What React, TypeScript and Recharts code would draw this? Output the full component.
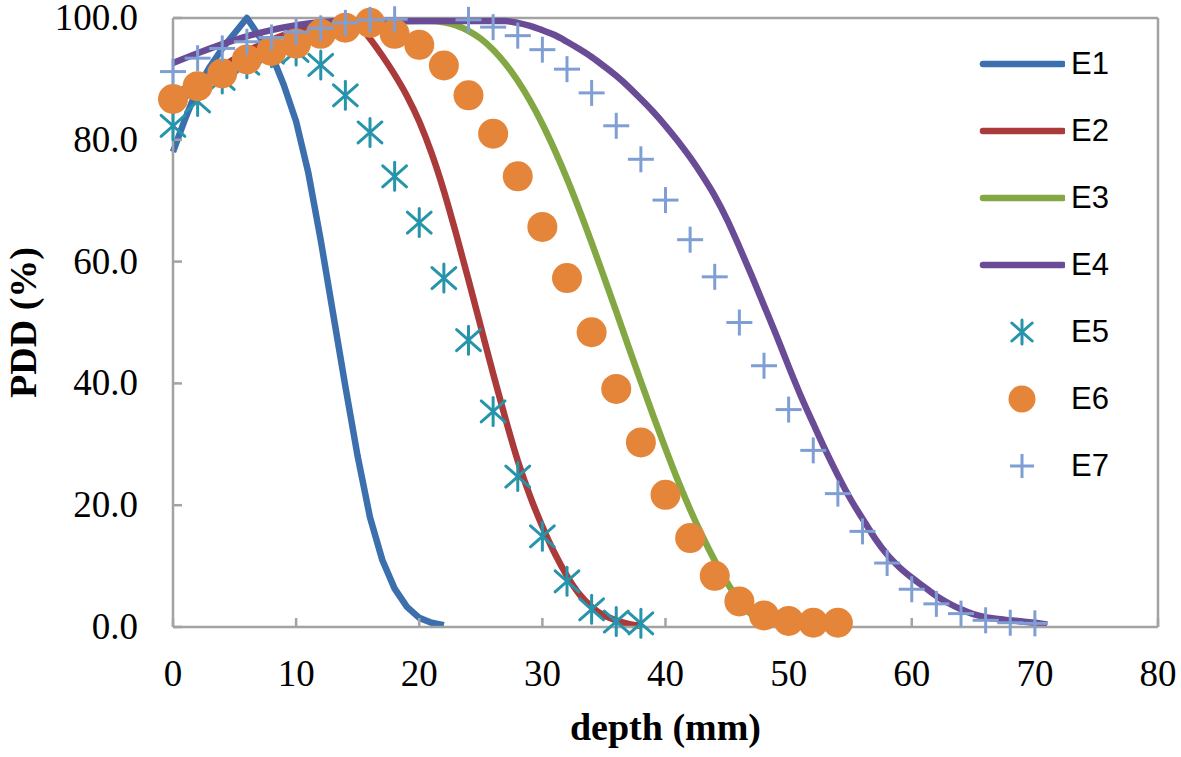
import React from 'react';
import {
  ComposedChart,
  Line,
  Scatter,
  XAxis,
  YAxis,
  ReferenceLine,
  Legend,
} from 'recharts';

// axis ticks
const xTicks = [0, 10, 20, 30, 40, 50, 60, 70, 80];
const yTicks = [0, 20, 40, 60, 80, 100];

// E1..E4 are drawn as lines
const e1Depth = [0, 1, 2, 3, 4, 5, 6, 7, 8, 9, 10, 11, 12, 13, 14, 15, 16, 17, 18, 19, 20, 21, 22];
const e1Pdd = [78, 83.5, 88.5, 92, 95, 97.5, 100, 97, 94, 89, 83, 74.5, 63.5, 51.5, 39.5, 28, 18, 11, 6.3, 3.3, 1.5, 0.7, 0.3];

const e2Depth = [0, 1, 2, 3, 4, 5, 6, 7, 8, 9, 10, 11, 12, 13, 14, 15, 16, 17, 18, 19, 20, 21, 22, 23, 24, 25, 26, 27, 28, 29, 30, 31, 32, 33, 34, 35, 36, 37, 38];
const e2Pdd = [85, 87, 89, 90.6, 92, 93.3, 94.5, 95.5, 96.4, 97.2, 97.9, 98.5, 99, 99.4, 99.6, 99, 96.6, 93.8, 90.7, 87.2, 83, 77.8, 71.6, 64.5, 57, 49.3, 41.6, 34.2, 27.3, 21.5, 16.5, 12.1, 8.4, 5.4, 3.3, 1.9, 1.1, 0.5, 0.2];

const e3Depth = [0, 2, 4, 6, 8, 10, 12, 14, 16, 18, 20, 21, 22, 23, 24, 25, 26, 27, 28, 29, 30, 31, 32, 33, 34, 35, 36, 37, 38, 39, 40, 41, 42, 43, 44, 45, 46, 47, 48];
const e3Pdd = [87.5, 89.5, 91.5, 93.3, 95, 96.3, 97.4, 98.3, 99, 99.4, 99.5, 99.5, 99.3, 98.8, 97.9, 96.6, 94.8, 92.5, 89.7, 86.4, 82.6, 78.3, 73.6, 68.5, 63.1, 57.5, 51.8, 46, 40.3, 34.7, 29.3, 24.1, 19.3, 14.9, 10.9, 7.3, 4.3, 2, 0.6];

const e4Depth = [0, 2, 4, 6, 8, 10, 12, 14, 16, 18, 20, 22, 24, 26, 27, 28, 29, 30, 31, 32, 33, 34, 35, 36, 37, 38, 39, 40, 41, 42, 43, 44, 45, 46, 47, 48, 49, 50, 51, 52, 53, 54, 55, 56, 57, 58, 59, 60, 61, 62, 63, 64, 65, 66, 67, 68, 69, 70, 71];
const e4Pdd = [92.6, 94.2, 95.7, 97, 98, 98.8, 99.3, 99.5, 99.5, 99.5, 99.5, 99.5, 99.5, 99.5, 99.5, 99.2, 98.7, 98, 97.2, 96.1, 94.9, 93.6, 92.1, 90.5, 88.7, 86.7, 84.6, 82.3, 79.8, 77.1, 74.1, 70.8, 66.9, 62.4, 57.7, 52.8, 47.9, 42.8, 37.9, 33.4, 29, 24.9, 21.1, 17.8, 14.6, 11.9, 9.8, 8.1, 6.6, 5.1, 3.9, 2.9, 2.1, 1.6, 1.3, 1.1, 0.9, 0.7, 0.4];

// E5..E7 are drawn as markers
const e5Depth = [0, 2, 4, 6, 8, 10, 12, 14, 16, 18, 20, 22, 24, 26, 28, 30, 32, 34, 36, 38];
const e5Pdd = [82.3, 86.3, 90, 92.5, 94.3, 94.6, 92.3, 87.3, 81.2, 74, 66.4, 57.3, 47.1, 35.4, 24.7, 14.9, 7.5, 2.9, 0.9, 0.6];

const e6Depth = [0, 2, 4, 6, 8, 10, 12, 14, 16, 18, 20, 22, 24, 26, 28, 30, 32, 34, 36, 38, 40, 42, 44, 46, 48, 50, 52, 54];
const e6Pdd = [86.7, 88.8, 90.9, 93.2, 94.6, 95.8, 97.4, 98.4, 99.2, 97.4, 95.6, 92.2, 87.3, 81, 74, 65.7, 57.3, 48.4, 39.1, 30.3, 21.7, 14.6, 8.4, 4.2, 1.9, 1.0, 0.7, 0.7];

const e7Depth = [0, 2, 4, 6, 8, 10, 12, 14, 16, 18, 24, 26, 28, 30, 32, 34, 36, 38, 40, 42, 44, 46, 48, 50, 52, 54, 56, 58, 60, 62, 64, 66, 68, 70];
const e7Pdd = [91.2, 93.4, 95, 96.1, 96.8, 97.7, 98.3, 99.2, 99.7, 99.8, 99.7, 98.5, 97.1, 94.8, 91.6, 87.7, 82.3, 76.8, 70.1, 63.6, 57.5, 50, 42.9, 35.7, 29, 21.9, 15.7, 10.5, 6.2, 3.8, 2.2, 1.1, 0.7, 0.6];

const GRAY = '#a3a3a3';
const SERIF = '"Liberation Serif", "Times New Roman", serif';
const SANS = '"Liberation Sans", Arial, sans-serif';

const colors = {
  E1: '#3b6fae',
  E2: '#aa3b3a',
  E3: '#83a843',
  E4: '#6a4c96',
  E5: '#2694aa',
  E6: '#e4853a',
  E7: '#7f9fd4',
};

const toPoints = (depth: number[], pdd: number[]) =>
  depth.map((d, i) => ({ depth: d, pdd: pdd[i] }));

const Asterisk = ({ cx, cy, r = 14, color }: any) => (
  <g stroke={color} strokeWidth={3} strokeLinecap="round">
    <line x1={cx} y1={cy - r} x2={cx} y2={cy + r} />
    <line x1={cx - r * 0.85} y1={cy - r * 0.75} x2={cx + r * 0.85} y2={cy + r * 0.75} />
    <line x1={cx - r * 0.85} y1={cy + r * 0.75} x2={cx + r * 0.85} y2={cy - r * 0.75} />
  </g>
);

const Plus = ({ cx, cy, r = 13, color }: any) => (
  <g stroke={color} strokeWidth={3}>
    <line x1={cx} y1={cy - r} x2={cx} y2={cy + r} />
    <line x1={cx - r} y1={cy} x2={cx + r} y2={cy} />
  </g>
);

const Dot = ({ cx, cy, r = 15, color }: any) => <circle cx={cx} cy={cy} r={r} fill={color} />;

const legendItems = [
  { name: 'E1', kind: 'line' },
  { name: 'E2', kind: 'line' },
  { name: 'E3', kind: 'line' },
  { name: 'E4', kind: 'line' },
  { name: 'E5', kind: 'star' },
  { name: 'E6', kind: 'circle' },
  { name: 'E7', kind: 'plus' },
];

function renderLegend() {
  return (
    <div style={{ display: 'flex', flexDirection: 'column' }}>
      {legendItems.map((item) => {
        const c = (colors as any)[item.name];
        return (
          <div key={item.name} style={{ display: 'flex', alignItems: 'center', height: 67 }}>
            <svg width={90} height={40}>
              {item.kind === 'line' && (
                <line x1={8} y1={20} x2={88} y2={20} stroke={c} strokeWidth={6.5} strokeLinecap="round" />
              )}
              {item.kind === 'star' && <Asterisk cx={47} cy={20} r={12} color={c} />}
              {item.kind === 'circle' && <Dot cx={47} cy={20} r={13.5} color={c} />}
              {item.kind === 'plus' && <Plus cx={47} cy={20} r={12} color={c} />}
            </svg>
            <span style={{ marginLeft: 6, fontFamily: SANS, fontSize: 31, color: '#000' }}>{item.name}</span>
          </div>
        );
      })}
    </div>
  );
}

const XTick = (props: any) => {
  const { x, y, payload } = props;
  return (
    <text x={x} y={y + 66} textAnchor="middle" fontFamily={SERIF} fontSize={37} fill="#000">
      {payload.value}
    </text>
  );
};

const YTick = (props: any) => {
  const { x, y, payload } = props;
  return (
    <text x={x - 42} y={y + 12} textAnchor="end" fontFamily={SERIF} fontSize={37} fill="#000">
      {Number(payload.value).toFixed(1)}
    </text>
  );
};

const XTitle = (props: any) => {
  const { x, y, width } = props.viewBox;
  return (
    <text x={x + width / 2} y={y + 113} textAnchor="middle" fontFamily={SERIF} fontWeight="bold" fontSize={38} fill="#000">
      depth (mm)
    </text>
  );
};

const YTitle = (props: any) => {
  const { x, y, height } = props.viewBox;
  const cx = x + 23;
  const cy = y + height / 2;
  return (
    <text
      x={cx}
      y={cy}
      transform={`rotate(-90 ${cx} ${cy})`}
      textAnchor="middle"
      dominantBaseline="central"
      fontFamily={SERIF}
      fontWeight="bold"
      fontSize={38}
      fill="#000"
    >
      PDD (%)
    </text>
  );
};

export default function App() {
  const axisStroke = { stroke: GRAY, strokeWidth: 2.5 };
  return (
    <div style={{ position: 'absolute', left: 0, top: 0, background: '#fff' }}>
      <ComposedChart width={1181} height={757} margin={{ top: 18, right: 23, bottom: 0, left: 0 }}>
        <XAxis
          dataKey="depth"
          type="number"
          domain={[0, 80]}
          ticks={xTicks}
          height={130}
          axisLine={axisStroke}
          tickLine={axisStroke}
          tickSize={-9}
          tick={XTick}
          label={XTitle}
          interval={0}
        />
        <YAxis
          dataKey="pdd"
          type="number"
          domain={[0, 100]}
          ticks={yTicks}
          width={173}
          axisLine={axisStroke}
          tickLine={axisStroke}
          tickSize={-9}
          tick={YTick}
          label={YTitle}
          interval={0}
        />
        <ReferenceLine y={100} stroke={GRAY} strokeWidth={2.5} />
        <ReferenceLine x={80} stroke={GRAY} strokeWidth={2.5} />

        <Line data={toPoints(e1Depth, e1Pdd)} dataKey="pdd" name="E1" stroke={colors.E1} strokeWidth={6.5} dot={false} activeDot={false} type="linear" strokeLinejoin="round" isAnimationActive={false} />
        <Line data={toPoints(e2Depth, e2Pdd)} dataKey="pdd" name="E2" stroke={colors.E2} strokeWidth={6.5} dot={false} activeDot={false} type="monotone" strokeLinejoin="round" isAnimationActive={false} />
        <Line data={toPoints(e3Depth, e3Pdd)} dataKey="pdd" name="E3" stroke={colors.E3} strokeWidth={6.5} dot={false} activeDot={false} type="monotone" strokeLinejoin="round" isAnimationActive={false} />
        <Line data={toPoints(e4Depth, e4Pdd)} dataKey="pdd" name="E4" stroke={colors.E4} strokeWidth={6.5} dot={false} activeDot={false} type="monotone" strokeLinejoin="round" isAnimationActive={false} />

        <Scatter data={toPoints(e5Depth, e5Pdd)} dataKey="pdd" name="E5" fill={colors.E5} isAnimationActive={false} shape={(p: any) => <Asterisk cx={p.cx} cy={p.cy} color={colors.E5} />} />
        <Scatter data={toPoints(e6Depth, e6Pdd)} dataKey="pdd" name="E6" fill={colors.E6} isAnimationActive={false} shape={(p: any) => <Dot cx={p.cx} cy={p.cy} color={colors.E6} />} />
        <Scatter data={toPoints(e7Depth, e7Pdd)} dataKey="pdd" name="E7" fill={colors.E7} isAnimationActive={false} shape={(p: any) => <Plus cx={p.cx} cy={p.cy} color={colors.E7} />} />

        <Legend
          layout="vertical"
          align="center"
          verticalAlign="middle"
          content={renderLegend}
          wrapperStyle={{ top: 30, left: 975, width: 180, height: 470 }}
        />
      </ComposedChart>
    </div>
  );
}
